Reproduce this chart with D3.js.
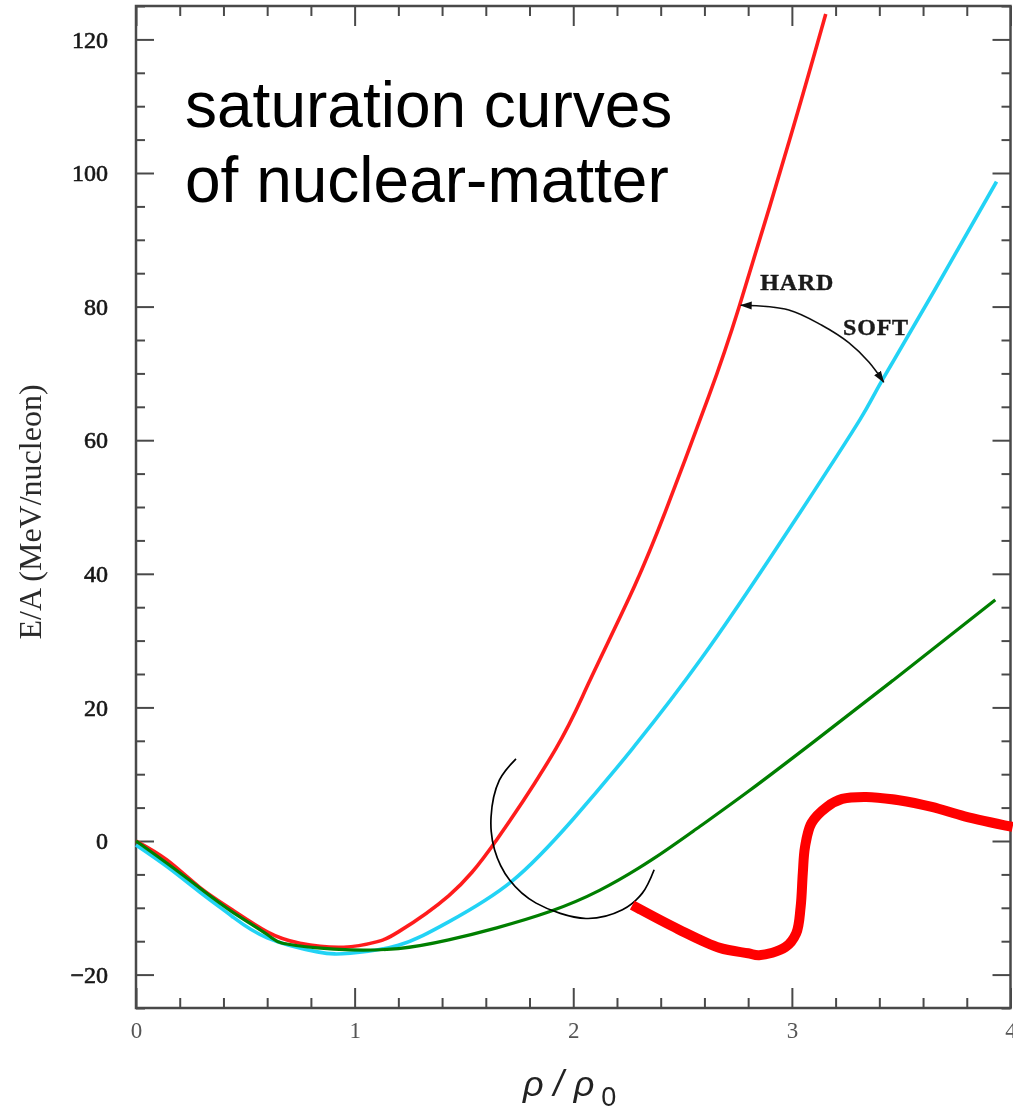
<!DOCTYPE html>
<html>
<head>
<meta charset="utf-8">
<script src="https://cdn.jsdelivr.net/npm/d3@7"></script>
<style>
  html, body { margin: 0; padding: 0; background: #fff; }
  svg { display: block; }
</style>
</head>
<body>
<script>
// Energy per nucleon E/A (MeV) against density rho/rho0
const xMajorTicks = [0, 1, 2, 3, 4];
const yMajorTicks = [-20, 0, 20, 40, 60, 80, 100, 120];

// stiff equation of state
const hardCurve = [
  [0, 0], [0.14, -2.8], [0.29, -6.9], [0.44, -10.3], [0.6, -13.6], [0.75, -15.3],
  [0.95, -15.9], [1.1, -15.1], [1.2, -13.6], [1.43, -8.2], [1.65, 0.2], [1.92, 13.8],
  [2.07, 23.6], [2.26, 36.7], [2.42, 49.2], [2.62, 66.6], [2.76, 80.1], [2.99, 105.0],
  [3.155, 123.8]
];

// soft equation of state
const softCurve = [
  [0, -0.6], [0.14, -3.8], [0.29, -7.6], [0.44, -11.3], [0.6, -14.5], [0.83, -16.6],
  [0.98, -16.8], [1.2, -15.6], [1.43, -12.1], [1.72, -6.0], [2.0, 3.3], [2.27, 13.8],
  [2.59, 27.5], [2.895, 42.1], [3.1, 52.3], [3.31, 63.0], [3.41, 68.8], [3.65, 82.3],
  [3.936, 98.7]
];

// softer curve
const softerCurve = [
  [0, 0], [0.14, -3.3], [0.29, -7.0], [0.44, -10.6], [0.6, -14.0], [0.67, -15.3],
  [0.83, -16.0], [0.98, -16.3], [1.2, -16.1], [1.43, -14.8], [1.65, -13.0], [1.89, -10.6],
  [2.12, -7.4], [2.36, -2.8], [2.58, 2.2], [2.8, 7.4], [3.11, 15.1], [3.5, 25.0],
  [3.93, 36.1]
];

// curve with a second minimum / phase-transition bump
const transitionCurve = [
  [2.27, -9.6], [2.48, -13.2], [2.67, -16.0], [2.8, -16.8], [2.85, -17.1], [2.97, -15.9],
  [3.02, -13.8], [3.04, -9.9], [3.05, -4.8], [3.06, -0.9], [3.09, 2.7], [3.16, 5.1],
  [3.23, 6.3], [3.34, 6.6], [3.49, 6.1], [3.64, 5.1], [3.79, 3.7], [4.01, 2.1]
];

// hand-drawn ring around the crossing region
const ringPoints = [
  [1.738, 12.3], [1.662, 9.1], [1.624, 3.6], [1.64, -1.3], [1.708, -5.8], [1.83, -9.3],
  [2.058, -11.6], [2.225, -10.3], [2.316, -7.8], [2.37, -4.3]
];

// double arrow between the hard and soft curves
const hardSoftArrow = [
  [2.766, 80.2], [2.986, 79.5], [3.137, 77.2], [3.26, 74.6], [3.352, 71.7], [3.42, 68.7]
];
const hardLabelAt = [2.855, 82.5];
const softLabelAt = [3.234, 75.7];

const W = 1013, H = 1113;
const x = d3.scaleLinear().domain([0, 4]).range([136, 1010.5]);
const y = d3.scaleLinear().domain([-25, 125]).range([1008, 6]);

const svg = d3.select("body").append("svg")
  .attr("width", W).attr("height", H)
  .attr("viewBox", `0 0 ${W} ${H}`);

const defs = svg.append("defs");
defs.append("filter").attr("id", "scan")
  .attr("x", "-5%").attr("y", "-5%").attr("width", "110%").attr("height", "110%")
  .append("feGaussianBlur").attr("stdDeviation", 0.6);

defs.append("marker")
  .attr("id", "head")
  .attr("viewBox", "0 -5 12 10")
  .attr("refX", 11).attr("refY", 0)
  .attr("markerWidth", 12).attr("markerHeight", 10)
  .attr("markerUnits", "userSpaceOnUse")
  .attr("orient", "auto-start-reverse")
  .append("path").attr("d", "M0,-4L12,0L0,4Z").attr("fill", "#111");

const base = svg.append("g").attr("filter", "url(#scan)");

const frameColor = "#4a4a4a";
const serif = "'Liberation Serif', 'Times New Roman', serif";

function styleTicks(g) {
  g.select(".domain").remove();
  g.selectAll(".tick line").attr("stroke", frameColor).attr("stroke-width", 2);
}

const xMinor = d3.range(0, 4.0001, 0.2).filter(v => Math.abs(v - Math.round(v)) > 1e-6);
const yMinor = d3.range(-25, 125.0001, 5).filter(v => v % 20 !== 0);

// bottom axis
base.append("g").attr("transform", `translate(0,${y(-25)})`)
  .call(d3.axisBottom(x).tickValues(xMajorTicks).tickSize(-20).tickPadding(14).tickFormat(d3.format("d")))
  .call(styleTicks)
  .call(g => g.selectAll("text")
    .attr("font-family", serif).attr("font-size", 23).attr("fill", "#555"));
base.append("g").attr("transform", `translate(0,${y(-25)})`)
  .call(d3.axisBottom(x).tickValues(xMinor).tickSize(-10).tickFormat(""))
  .call(styleTicks);

// top axis
base.append("g").attr("transform", `translate(0,${y(125)})`)
  .call(d3.axisTop(x).tickValues(xMajorTicks).tickSize(-20).tickFormat(""))
  .call(styleTicks);
base.append("g").attr("transform", `translate(0,${y(125)})`)
  .call(d3.axisTop(x).tickValues(xMinor).tickSize(-10).tickFormat(""))
  .call(styleTicks);

// left axis
base.append("g").attr("transform", `translate(${x(0)},0)`)
  .call(d3.axisLeft(y).tickValues(yMajorTicks).tickSize(-18).tickPadding(28).tickFormat(d3.format("d")))
  .call(styleTicks)
  .call(g => g.selectAll("text")
    .attr("font-family", serif).attr("font-size", 24).attr("fill", "#151515")
    .attr("stroke", "#151515").attr("stroke-width", 0.6));
base.append("g").attr("transform", `translate(${x(0)},0)`)
  .call(d3.axisLeft(y).tickValues(yMinor).tickSize(-9).tickFormat(""))
  .call(styleTicks);

// right axis
base.append("g").attr("transform", `translate(${x(4)},0)`)
  .call(d3.axisRight(y).tickValues(yMajorTicks).tickSize(-18).tickFormat(""))
  .call(styleTicks);
base.append("g").attr("transform", `translate(${x(4)},0)`)
  .call(d3.axisRight(y).tickValues(yMinor).tickSize(-9).tickFormat(""))
  .call(styleTicks);

// frame
base.append("rect")
  .attr("x", x(0)).attr("y", y(125))
  .attr("width", x(4) - x(0)).attr("height", y(-25) - y(125))
  .attr("fill", "none").attr("stroke", frameColor).attr("stroke-width", 2.5);

// axis titles
base.append("text")
  .attr("transform", `translate(41,512) rotate(-90)`)
  .attr("text-anchor", "middle")
  .attr("font-family", serif).attr("font-size", 32).attr("fill", "#2a2a2a")
  .text("E/A (MeV/nucleon)");

const xTitle = base.append("text")
  .attr("x", 523).attr("y", 1096)
  .attr("font-family", "'Liberation Sans', Arial, sans-serif").attr("fill", "#222");
xTitle.append("tspan").attr("font-size", 36).attr("font-style", "italic").text("ρ / ρ");
xTitle.append("tspan").attr("font-size", 27).attr("dx", 7).attr("dy", 10).text("0");

const smooth = d3.line()
  .x(d => x(d[0])).y(d => y(d[1]))
  .curve(d3.curveNatural);
const freehand = d3.line()
  .x(d => x(d[0])).y(d => y(d[1]))
  .curve(d3.curveCatmullRom.alpha(0.5));

// plotted curves from the original figure
base.append("path").datum(softCurve)
  .attr("d", smooth).attr("fill", "none")
  .attr("stroke", "#24d3f5").attr("stroke-width", 3.6);
base.append("path").datum(hardCurve)
  .attr("d", smooth).attr("fill", "none")
  .attr("stroke", "#ff1e1e").attr("stroke-width", 3.6);

// HARD / SOFT annotation
base.append("path").datum(hardSoftArrow)
  .attr("d", freehand).attr("fill", "none")
  .attr("stroke", "#111").attr("stroke-width", 1.6)
  .attr("marker-start", "url(#head)").attr("marker-end", "url(#head)");
base.append("text")
  .attr("x", x(hardLabelAt[0])).attr("y", y(hardLabelAt[1]))
  .attr("font-family", serif).attr("font-weight", "bold").attr("font-size", 24)
  .attr("letter-spacing", 0.8).attr("fill", "#1a1a1a")
  .attr("stroke", "#1a1a1a").attr("stroke-width", 0.4).text("HARD");
base.append("text")
  .attr("x", x(softLabelAt[0])).attr("y", y(softLabelAt[1]))
  .attr("font-family", serif).attr("font-weight", "bold").attr("font-size", 24)
  .attr("letter-spacing", 0.8).attr("fill", "#1a1a1a")
  .attr("stroke", "#1a1a1a").attr("stroke-width", 0.4).text("SOFT");

// overlaid curves and markings
svg.append("path").datum(softerCurve)
  .attr("d", smooth).attr("fill", "none")
  .attr("stroke", "#007f00").attr("stroke-width", 3.2);

svg.append("path").datum(ringPoints)
  .attr("d", freehand).attr("fill", "none")
  .attr("stroke", "#000").attr("stroke-width", 1.7);

svg.append("path").datum(transitionCurve)
  .attr("d", freehand).attr("fill", "none")
  .attr("stroke", "#ff0000").attr("stroke-width", 10)
  .attr("stroke-linejoin", "round");

// heading
const heading = svg.append("text")
  .attr("font-family", "'Liberation Sans', Arial, sans-serif")
  .attr("font-size", 64).attr("fill", "#000");
heading.append("tspan").attr("x", 185).attr("y", 127).text("saturation curves");
heading.append("tspan").attr("x", 185).attr("y", 202).text("of nuclear-matter");
</script>
</body>
</html>
